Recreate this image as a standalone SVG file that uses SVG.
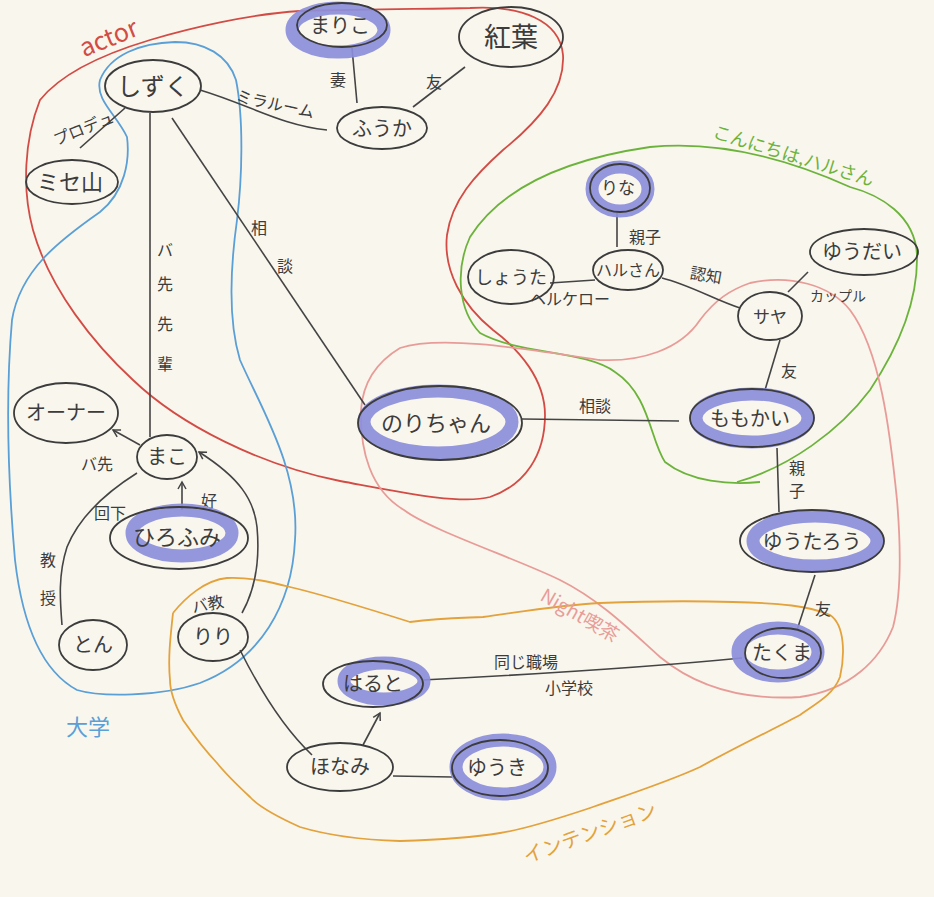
<svg xmlns="http://www.w3.org/2000/svg" width="934" height="897" viewBox="0 0 934 897">
<style>
.n{fill:none;stroke:#3c3c3c;stroke-width:1.8}
.hl{fill:none;stroke:#8c8edb;stroke-width:13;stroke-opacity:.92}
.e{fill:none;stroke:#444;stroke-width:1.6}
.t{font-family:"Noto Sans CJK JP","Noto Sans",sans-serif;fill:#3c3c3c;text-anchor:middle}
.nm{font-size:20px}
.l{font-size:16px}
.g{fill:none;stroke-width:1.8}
</style>
<defs>
<marker id="arr" markerWidth="10" markerHeight="10" refX="8" refY="5" orient="auto" markerUnits="userSpaceOnUse">
<path d="M1,1 L8,5 L1,9" fill="none" stroke="#444" stroke-width="1.5"/>
</marker>
</defs>
<rect width="934" height="897" fill="#f9f6ed"/>

<g id="groups">
<path class="g" stroke="#d24c45" d="M470,8 C520,5 560,20 563,55 C565,90 540,120 503,150 C475,175 452,200 447,235 C443,270 462,305 493,330 C520,350 545,380 545,415 C545,455 525,485 490,497 C460,505 400,492 340,481 C260,465 180,425 133,380 C95,345 50,290 33,230 C22,190 24,140 40,100 C60,75 100,55 150,40 C190,28 250,14 300,11 C380,9 430,9 470,8"/>
<path class="g" stroke="#5a9fd6" d="M240,360 C262,410 300,470 295,540 C292,605 260,660 200,683 C160,697 100,697 77,690 C40,670 22,620 15,560 C8,480 5,400 12,320 C20,270 60,240 100,212 C125,192 130,160 127,137 C117,115 95,100 100,80 C110,55 140,43 175,42 C205,42 228,55 236,80 C244,120 242,180 237,220 C230,270 228,320 240,360"/>
<path class="g" stroke="#6cb33b" d="M737,482 C790,467 840,430 870,390 C900,345 918,300 917,255 C915,215 880,195 850,187 C790,160 720,140 650,147 C560,160 500,190 470,237 C455,270 458,310 480,333 C520,355 585,350 615,372 C650,395 650,440 665,462 C690,482 730,485 760,482"/>
<path class="g" stroke="#e89c98" d="M750,283 C790,274 830,285 850,310 C880,350 890,430 897,500 C902,560 900,600 893,627 C880,660 850,690 800,697 C750,700 700,690 660,657 C630,630 600,600 560,580 C520,560 430,530 404,510 C370,490 360,450 361,410 C363,380 380,360 400,348 C440,335 520,348 600,360 C640,362 680,350 700,320 C715,300 730,290 750,283"/>
<path class="g" stroke="#e3a23b" d="M173,613 C185,598 205,580 227,578 C250,577 270,582 290,587 C320,594 350,603 410,622 C440,618 460,618 483,617 C520,612 560,605 600,603 C650,601 700,601 733,602 C780,603 810,606 830,615 C845,625 845,655 840,677 C833,695 817,703 800,715 C780,726 740,745 700,767 C670,781 633,793 590,808 C560,818 520,830 500,833 C470,838 433,840 400,841 C367,840 330,836 300,827 C280,818 260,808 250,797 C235,783 225,773 217,763 C200,745 190,730 183,720 C175,705 170,690 170,680 C168,660 170,640 173,613"/>
<text class="t" x="112" y="46" font-size="25" style="fill:#d24c45" transform="rotate(-22 112 46)">actor</text>
<text class="t" x="88" y="735" font-size="22" style="fill:#5a9fd6">大学</text>
<text class="t" x="793" y="162" font-size="18" style="fill:#6cb33b" transform="rotate(17 793 157)">こんにちは,ハルさん</text>
<text class="t" x="580" y="622" font-size="19" style="fill:#e89c98" transform="rotate(30 580 615)">Night喫茶</text>
<text class="t" x="590" y="840" font-size="20" style="fill:#e3a23b" transform="rotate(-20 590 833)">インテンション</text>
</g>

<g id="connectors">
<path class="e" d="M80,148 L125,108"/>
<path class="e" d="M200,90 C250,105 280,125 327,130"/>
<path class="e" d="M352,48 L357,103"/>
<path class="e" d="M465,67 L413,107"/>
<path class="e" d="M150,113 L150,437"/>
<path class="e" d="M172,118 L365,405"/>
<path class="e" d="M140,445 L113,430" marker-end="url(#arr)"/>
<path class="e" d="M182,510 L182,482" marker-end="url(#arr)"/>
<path class="e" d="M137,473 C110,490 80,515 67,547 C58,575 60,600 62,625"/>
<path class="e" d="M242,613 C255,590 260,560 257,527 C254,500 240,478 199,452" marker-end="url(#arr)"/>
<path class="e" d="M240,650 C255,680 280,725 312,755"/>
<path class="e" d="M363,745 L380,713" marker-end="url(#arr)"/>
<path class="e" d="M393,776 L452,777"/>
<path class="e" d="M423,680 C500,676 620,670 742,658"/>
<path class="e" d="M815,575 L797,630"/>
<path class="e" d="M777,448 L779,512"/>
<path class="e" d="M765,390 L780,340"/>
<path class="e" d="M522,419 L679,421"/>
<path class="e" d="M662,278 C690,285 715,300 740,308"/>
<path class="e" d="M550,283 L595,280"/>
<path class="e" d="M617,211 L617,247"/>
<path class="e" d="M788,292 L808,272"/>
<text class="t l" x="84" y="134" transform="rotate(-22 84 129)">プロデュ</text>
<text class="t l" x="275" y="110" transform="rotate(12 275 105)">ミラルーム</text>
<text class="t l" x="338" y="86">妻</text>
<text class="t l" x="434" y="88">友</text>
<text class="t l" x="165" y="256">バ</text>
<text class="t l" x="165" y="290">先</text>
<text class="t l" x="165" y="330">先</text>
<text class="t l" x="165" y="370">輩</text>
<text class="t l" x="259" y="234">相</text>
<text class="t l" x="285" y="272">談</text>
<text class="t l" x="97" y="470">バ先</text>
<text class="t l" x="110" y="519">回下</text>
<text class="t l" x="209" y="507">好</text>
<text class="t l" x="48" y="566">教</text>
<text class="t l" x="48" y="604">授</text>
<text class="t l" x="208" y="610" transform="rotate(-12 208 605)">バ教</text>
<text class="t l" x="526" y="668">同じ職場</text>
<text class="t l" x="569" y="694">小学校</text>
<text class="t l" x="823" y="615">友</text>
<text class="t l" x="797" y="474">親</text>
<text class="t l" x="797" y="497">子</text>
<text class="t l" x="789" y="377">友</text>
<text class="t l" x="595" y="412">相談</text>
<text class="t l" x="706" y="281" transform="rotate(10 706 276)">認知</text>
<text class="t l" x="570" y="305">ヘルケロー</text>
<text class="t l" x="645" y="243">親子</text>
<text class="t" x="838" y="301" font-size="14">カップル</text>
</g>

<g id="n-shizuku"><ellipse class="n" cx="153" cy="86" rx="48" ry="26"/><text class="t" x="153" y="95" font-size="24">しずく</text></g>
<g id="n-mariko"><ellipse class="hl" cx="338" cy="30" rx="46" ry="22"/><ellipse class="n" cx="342" cy="25" rx="45" ry="22"/><text class="t nm" x="340" y="33">まりこ</text></g>
<g id="n-momiji"><ellipse class="n" cx="511" cy="37" rx="52" ry="30"/><text class="t" x="511" y="47" font-size="27">紅葉</text></g>
<g id="n-fuuka"><ellipse class="n" cx="382" cy="128" rx="45" ry="21"/><text class="t nm" x="382" y="136">ふうか</text></g>
<g id="n-miseyama"><ellipse class="n" cx="72" cy="182" rx="46" ry="22"/><text class="t" x="70" y="190" font-size="22">ミセ山</text></g>
<g id="n-noriko"><ellipse class="hl" cx="438" cy="422" rx="74" ry="31"/><ellipse class="n" cx="440" cy="423" rx="82" ry="37"/><text class="t" x="436" y="431" font-size="22">のりちゃん</text></g>
<g id="n-momoka"><ellipse class="hl" cx="752" cy="418" rx="56" ry="24"/><ellipse class="n" cx="752" cy="418" rx="62" ry="29"/><text class="t nm" x="750" y="426">ももかい</text></g>
<g id="n-saya"><ellipse class="n" cx="770" cy="316" rx="32" ry="24"/><text class="t" x="770" y="323" font-size="17">サヤ</text></g>
<g id="n-yuudai"><ellipse class="n" cx="864" cy="252" rx="54" ry="23"/><text class="t nm" x="862" y="259">ゆうだい</text></g>
<g id="n-rina"><ellipse class="hl" cx="620" cy="189" rx="28" ry="22"/><ellipse class="n" cx="620" cy="188" rx="30" ry="24"/><text class="t" x="618" y="194" font-size="17">りな</text></g>
<g id="n-shouta"><ellipse class="n" cx="511" cy="277" rx="43" ry="27"/><text class="t" x="511" y="284" font-size="18">しょうた</text></g>
<g id="n-harusan"><ellipse class="n" cx="628" cy="270" rx="35" ry="20"/><text class="t" x="628" y="276" font-size="16">ハルさん</text></g>
<g id="n-yuutarou"><ellipse class="hl" cx="815" cy="541" rx="62" ry="25"/><ellipse class="n" cx="812" cy="541" rx="72" ry="31"/><text class="t nm" x="812" y="549">ゆうたろう</text></g>
<g id="n-takuma"><ellipse class="hl" cx="778" cy="652" rx="40" ry="24"/><ellipse class="n" cx="783" cy="653" rx="38" ry="25"/><text class="t nm" x="782" y="660">たくま</text></g>
<g id="n-haruto"><ellipse class="hl" cx="384" cy="681" rx="40" ry="18"/><ellipse class="n" cx="373" cy="684" rx="50" ry="23"/><text class="t nm" x="373" y="691">はると</text></g>
<g id="n-honami"><ellipse class="n" cx="340" cy="767" rx="53" ry="24"/><text class="t nm" x="340" y="774">ほなみ</text></g>
<g id="n-yuuki"><ellipse class="hl" cx="503" cy="767" rx="47" ry="27"/><ellipse class="n" cx="500" cy="768" rx="48" ry="28"/><text class="t nm" x="497" y="775">ゆうき</text></g>
<g id="n-owner"><ellipse class="n" cx="66" cy="413" rx="52" ry="30"/><text class="t nm" x="66" y="420">オーナー</text></g>
<g id="n-mako"><ellipse class="n" cx="167" cy="457" rx="30" ry="22"/><text class="t nm" x="167" y="464">まこ</text></g>
<g id="n-hirofumi"><ellipse class="hl" cx="182" cy="533" rx="50" ry="23"/><ellipse class="n" cx="179" cy="538" rx="69" ry="31"/><text class="t" x="177" y="545" font-size="22">ひろふみ</text></g>
<g id="n-ton"><ellipse class="n" cx="93" cy="645" rx="34" ry="25"/><text class="t nm" x="93" y="652">とん</text></g>
<g id="n-riri"><ellipse class="n" cx="213" cy="637" rx="35" ry="24"/><text class="t nm" x="213" y="644">りり</text></g>
</svg>
